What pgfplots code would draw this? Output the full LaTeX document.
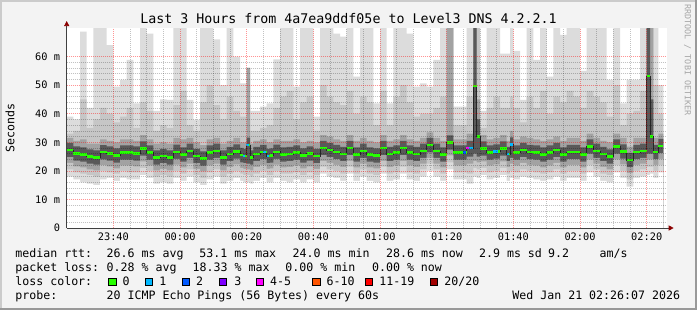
\documentclass[border=0pt]{standalone}
\usepackage{fontspec}
\setmainfont{DejaVu Sans Mono}
\usepackage{pgfplots}
\pgfplotsset{compat=1.18}
\usepackage{pgfplotstable}
\usetikzlibrary{arrows.meta}

\definecolor{bgc}{HTML}{F3F3F3}
\definecolor{shadea}{HTML}{CBCBCB}
\definecolor{shadeb}{HTML}{999999}
\definecolor{Lone}{HTML}{DCDCDC}
\definecolor{Ltwo}{HTML}{C6C6C6}
\definecolor{Lthree}{HTML}{A2A2A2}
\definecolor{Lfour}{HTML}{595959}
\definecolor{medgreen}{HTML}{26FF00}
\definecolor{loss1}{HTML}{00B8FF}
\definecolor{loss2}{HTML}{0059FF}
\definecolor{loss3}{HTML}{7E00FF}
\definecolor{loss4}{HTML}{FF00FF}
\definecolor{loss6}{HTML}{FF5500}
\definecolor{loss11}{HTML}{FF0000}
\definecolor{loss20}{HTML}{A10000}
\definecolor{arrowc}{HTML}{8B0000}

\newcommand\lgf{\fontsize{11.6}{13}\selectfont}

\pgfplotstableread{
m top t2 t3 t4 b4 b3 b2 b1 med
-34 39 33 31.5 29.8 24.8 22.8 20.5 18 27.3
-32 38 34 30.5 28.6 23.6 21.6 19.5 17 26.1
-30 68.7 45 31 28.2 23.2 21.2 19 16 25.7
-28 42 35 29.5 27.5 22.5 20.5 18.5 15.5 25.0
-26 70 38 29.5 27.2 22.2 20.2 18 15 24.7
-24 70 42 31 29 24 22 20 17 26.5
-22 64 40 30.5 28.6 23.6 21.6 19.5 17.5 26.1
-20 49.5 37 30 27.9 22.9 20.9 19 16.5 25.4
-18 51.8 39 31 28.9 23.9 21.9 20 17.5 26.4
-16 58.8 42 31 28.9 23.9 21.9 19.5 17 26.4
-14 43.6 35 30.5 28.6 23.6 21.6 19.5 17 26.1
-12 70 44 32.5 30.3 25.3 23.3 21 18.5 27.8
-10 68 41 31 28.9 23.9 21.9 20 17.5 26.4
-8 41 34 29.5 27.2 22.2 20.2 18 15.5 24.7
-6 45 36 30 27.7 22.7 20.7 18.5 16 25.2
-4 44.8 35 29.5 27.2 22.2 20.2 18 15.5 24.7
-2 70 43 31.5 29.2 24.2 22.2 20 17.5 26.7
0 70 48 31 28.2 23.2 21.2 19 16.5 25.7
2 44.8 36 31.5 29.5 24.5 22.5 20.5 18 27.0
4 37.8 34 30 27.7 22.7 20.7 18.5 16 25.2
6 70 44 29 26.8 21.8 19.8 17.5 15 24.3
8 70 50 31 28.9 23.9 21.9 19.5 17 26.4
10 66 43 31.5 29.5 24.5 22.5 20.5 18 27.0
12 50 38 29.5 27.2 22.2 20.2 18 15.5 24.7
14 70 46 30.5 28.4 23.4 21.4 19 16.5 25.9
16 60 41 31.5 29.3 24.3 22.3 20 17.5 26.8
18 50.6 39 30 28 23 21 19 16.5 25.5
19 50.6 39 30 27.7 22.7 20.7 18.5 16 25.2
20 56 56 56 31.6 22.5 20.5 18.5 16 29.1
21 41 34 29.5 27.2 22.2 20.2 18 15.5 24.7
22 41 34 30.5 28.4 23.4 21.4 19 16.5 25.9
24 42.5 35 31 29.1 24.1 22.1 20 17.5 26.6
25 42.5 35 31 29.1 24.1 22.1 20 17.5 26.6
26 43.6 36 30 27.7 22.7 20.7 18.5 16 25.2
27 43.6 36 30 27.9 22.9 20.9 18.5 16 25.4
28 59 42 31 29.2 24.2 22.2 20 17.5 26.7
30 70 46 30.5 28.2 23.2 21.2 19 16.5 25.7
32 70 48 30.5 28.4 23.4 21.4 19 16 25.9
34 49.5 38 31 28.9 23.9 21.9 19.5 17 26.4
36 70 44 30 27.9 22.9 20.9 18.5 16 25.4
38 70 46 30.5 28.6 23.6 21.6 19.5 17 26.1
40 39 34 30 27.7 22.7 20.7 18.5 16 25.2
42 70 50 32.5 30.5 25.5 23.5 21.5 19 28.0
44 70 46 32 29.8 24.8 22.8 20.5 18 27.3
46 68 44 31 29.1 24.1 22.1 20 17.5 26.6
48 67 43 30.5 28.4 23.4 21.4 19 16.5 25.9
50 70 48 32.5 30.5 25.5 23.5 21.5 19 28.0
52 53 40 30.5 28.2 23.2 21.2 19 16.5 25.7
54 70 46 31.5 29.5 24.5 22.5 20.5 18 27.0
56 70 44 30.5 28.2 23.2 21.2 19 16.5 25.7
58 43.6 36 30 27.9 22.9 20.9 18.5 16 25.4
60 70 48 32.5 30.5 25.5 23.5 21.5 19 28.0
62 43.6 36 30.5 28.4 23.4 21.4 19 16.5 25.9
64 70 46 31 28.9 23.9 21.9 19.5 17 26.4
66 70 50 32.5 30.5 25.5 23.5 21.5 19 28.0
68 68 44 31 28.9 23.9 21.9 19.5 17 26.4
70 49.5 39 30.5 28.4 23.4 21.4 19 16.5 25.9
72 50.6 40 31.5 29.5 24.5 22.5 20.5 18 27.0
74 49.5 40 33.5 31.5 26.5 24.5 22.5 20 29.0
76 58.8 42 31.5 29.5 24.5 22.5 20.5 18 27.0
78 70 46 30.5 28.2 23.2 21.2 19 16.5 25.7
80 70 70 70 32.4 27.4 25.4 23 20.5 29.9
82 42.5 36 31 28.9 23.9 21.9 19.5 17 26.4
84 42.5 36 31 28.9 23.9 21.9 19.5 17 26.4
85 42.5 36 31 28.9 23.9 21.9 19.5 17 26.4
86 70 46 33 30.5 25 22.5 19 15.5 28.0
87 70 46 33 30.5 25 22.5 19 15.5 28.0
88 70 70 70 70 26 23.5 21 18 49.7
89 70 70 45 38 25 23 20.5 17.5 32.0
90 41 35 32.5 30.3 25.3 23.3 21 18.5 27.8
92 70 42 31 28.9 23.9 21.9 19.5 17 26.4
94 70 46 31.5 29.3 24.3 22.3 20 17.5 26.8
96 61 42 32.5 30.3 25.3 23.3 21 18.5 27.8
98 61 42 30.5 28.4 23.4 21.4 19 16.5 25.9
99 70 46 34 31.7 24.5 22.5 20 17.5 29.2
100 62 42 31 28.9 23.9 21.9 19.5 17 26.4
102 44.8 37 32 29.8 24.8 22.8 20.5 18 27.3
104 70 46 31.5 29.1 24.1 22.1 20 17.5 26.6
106 58.8 42 31 28.9 23.9 21.9 19.5 17 26.4
108 70 48 30.5 28.2 23.2 21.2 19 16.5 25.7
110 53 40 31 28.9 23.9 21.9 19.5 17 26.4
112 70 46 32 29.8 24.8 22.8 20.5 18 27.3
114 67.6 44 30.5 28.2 23.2 21.2 19 16.5 25.7
116 70 48 31.5 29.1 24.1 22.1 20 17.5 26.6
118 70 46 31.5 29.1 24.1 22.1 20 17.5 26.6
120 55 42 30.5 28.2 23.2 21.2 19 16.5 25.7
122 70 48 33 31 26 24 22 19.5 28.5
124 70 46 31.5 29.5 24.5 22.5 20.5 18 27.0
126 70 44 30.5 28.4 23.4 21.4 19 16.5 25.9
128 51.8 39 30 27.5 22.5 20.5 18.5 16 25.0
130 70 50 33 31 26 24 22 19.5 28.5
132 43.6 36 31.5 29.3 24.3 22.3 20 17.5 26.8
134 51.8 40 28.5 26.3 21.3 19.3 17 14.5 23.8
136 51.8 41 31.5 29.1 24.1 22.1 20 17.5 26.6
138 70 48 31.5 29.5 24.5 22.5 20.5 18 27.0
140 70 70 70 70 26 24 21.5 18.5 53.2
141 70 70 70 45 26 24 21.5 19 32.0
142 70 50 31.5 29.1 24.1 22.1 20 17.5 26.6
143.5 50 40 33 31.2 26.2 24.2 22 19.5 28.7
145 50 40 33 31.2 26.2 24.2 22 19.5 28.7
}\smoke

\begin{document}
\begin{tikzpicture}
\useasboundingbox (0pt,0pt) rectangle (697pt,310pt);
\fill[bgc] (0pt,0pt) rectangle (697pt,310pt);
\fill[shadea] (0pt,0pt) rectangle (2pt,310pt);
\fill[shadea] (0pt,308pt) rectangle (697pt,310pt);
\fill[shadeb] (695pt,0pt) rectangle (697pt,310pt);
\fill[shadeb] (0pt,0pt) rectangle (697pt,2pt);
\begin{axis}[
  at={(66.7pt,82pt)}, anchor=south west,
  scale only axis, width=600pt, height=200pt,
  xmin=-34, xmax=146, ymin=0, ymax=70,
  axis background/.style={fill=white},
  axis on top,
  axis lines=left,
  axis line style={color=black!75, line width=0.7pt},
  x axis line style={-{Triangle[length=5pt,width=5pt,color=arrowc]}, shorten >=-7pt},
  y axis line style={-{Triangle[length=5pt,width=5pt,color=arrowc]}, shorten >=-7pt},
  xtick={-20,0,20,40,60,80,100,120,140},
  xticklabels={23:40,00:00,00:20,00:40,01:00,01:20,01:40,02:00,02:20},
  ytick={0,10,20,30,40,50,60},
  yticklabels={0,10 m,20 m,30 m,40 m,50 m,60 m},
  minor x tick num=3, minor y tick num=4,
  grid=both,
  major grid style={red, draw opacity=0.42, dash pattern=on 1pt off 1pt, line width=0.6pt},
  minor grid style={black, draw opacity=0.24, dash pattern=on 1pt off 1pt, line width=0.6pt},
  major tick length=0pt, minor tick length=0pt,
  tick label style={font=\fontsize{10.3}{12}\selectfont, /pgf/number format/assume math mode=true},
  xticklabel style={anchor=base, inner sep=0pt, yshift=-13pt},
  yticklabel style={anchor=east, inner sep=0pt, xshift=-6.5pt},
  clip=true,
]
\addplot[const plot, fill=Lone, draw=none] table[x=m,y=top]{\smoke} \closedcycle;
\addplot[const plot, fill=Ltwo, draw=none] table[x=m,y=t2]{\smoke} \closedcycle;
\addplot[const plot, fill=Lthree, draw=none] table[x=m,y=t3]{\smoke} \closedcycle;
\addplot[const plot, fill=Lfour, draw=none] table[x=m,y=t4]{\smoke} \closedcycle;
\addplot[const plot, fill=Lthree, draw=none] table[x=m,y=b4]{\smoke} \closedcycle;
\addplot[const plot, fill=Ltwo, draw=none] table[x=m,y=b3]{\smoke} \closedcycle;
\addplot[const plot, fill=Lone, draw=none] table[x=m,y=b2]{\smoke} \closedcycle;
\addplot[const plot, fill=white, draw=none] table[x=m,y=b1]{\smoke} \closedcycle;
\addplot[const plot, black!85, line width=0.7pt] table[x=m,y=med]{\smoke};
\addplot[jump mark left, medgreen, line width=2.4pt] table[x=m,y=med]{\smoke};
\addplot[loss1, line width=2.4pt] coordinates {(18.8,25.2) (19.6,25.2)};
\addplot[loss1, line width=2.4pt] coordinates {(19.8,29.1) (20.8,29.1)};
\addplot[loss1, line width=2.4pt] coordinates {(25,26.6) (25.8,26.6)};
\addplot[loss1, line width=2.4pt] coordinates {(26,25.2) (26.8,25.2)};
\addplot[loss2, line width=2.4pt] coordinates {(85,26.4) (85.8,26.4)};
\addplot[loss4, line width=2.4pt] coordinates {(85.8,28) (86.8,28)};
\addplot[loss1, line width=2.4pt] coordinates {(86.8,28) (88,28)};
\addplot[loss1, line width=2.4pt] coordinates {(94,26.8) (95.5,26.8)};
\addplot[loss1, line width=2.4pt] coordinates {(98,25.9) (98.6,25.9)};
\addplot[loss1, line width=2.4pt] coordinates {(99,29.2) (100,29.2)};
\end{axis}

\node[anchor=base, inner sep=0pt, font=\fontsize{13.3}{15}\selectfont] at (348.5pt,286pt) {Last 3 Hours from 4a7ea9ddf05e to Level3 DNS 4.2.2.1};
\node[rotate=90, inner sep=0pt, font=\lgf] at (10pt,182pt) {Seconds};
\node[rotate=-90, inner sep=0pt, font=\fontsize{8.4}{10}\selectfont, text=black!35] at (687.5pt,250pt) {RRDTOOL / TOBI OETIKER};

\begin{scope}[every node/.style={anchor=base west, inner sep=0pt, font=\lgf}]
\node at (15.2pt,52pt) {median rtt:};
\node at (106.5pt,52pt) {26.6 ms avg};
\node at (199.2pt,52pt) {53.1 ms max};
\node at (292.5pt,52pt) {24.0 ms min};
\node at (385.9pt,52pt) {28.6 ms now};
\node at (478.9pt,52pt) {2.9 ms sd};
\node at (547.9pt,52pt) {9.2};
\node at (599.5pt,52pt) {am/s};

\node at (15.2pt,38pt) {packet loss:};
\node at (106.5pt,38pt) {0.28 \% avg};
\node at (192.5pt,38pt) {18.33 \% max};
\node at (285.2pt,38pt) {0.00 \% min};
\node at (371.9pt,38pt) {0.00 \% now};

\node at (15.2pt,24pt) {loss color:};
\node at (122.5pt,24pt) {0};
\node at (159.2pt,24pt) {1};
\node at (195.9pt,24pt) {2};
\node at (234.2pt,24pt) {3};
\node at (269.9pt,24pt) {4-5};
\node at (326.5pt,24pt) {6-10};
\node at (379.2pt,24pt) {11-19};
\node at (444.2pt,24pt) {20/20};

\node at (15.2pt,10pt) {probe:};
\node at (106.5pt,10pt) {20 ICMP Echo Pings (56 Bytes) every 60s};
\node at (512.2pt,10pt) {Wed Jan 21 02:26:07 2026};
\end{scope}

\begin{scope}[line width=0.8pt]
\filldraw[fill=medgreen, draw=black] (108.7pt,24.4pt) rectangle ++(7.3pt,7.3pt);
\filldraw[fill=loss1, draw=black] (145.3pt,24.4pt) rectangle ++(7.3pt,7.3pt);
\filldraw[fill=loss2, draw=black] (182pt,24.4pt) rectangle ++(7.3pt,7.3pt);
\filldraw[fill=loss3, draw=black] (219pt,24.4pt) rectangle ++(7.3pt,7.3pt);
\filldraw[fill=loss4, draw=black] (256pt,24.4pt) rectangle ++(7.3pt,7.3pt);
\filldraw[fill=loss6, draw=black] (312.7pt,24.4pt) rectangle ++(7.3pt,7.3pt);
\filldraw[fill=loss11, draw=black] (365.3pt,24.4pt) rectangle ++(7.3pt,7.3pt);
\filldraw[fill=loss20, draw=black] (430pt,24.4pt) rectangle ++(7.3pt,7.3pt);
\end{scope}
\end{tikzpicture}
\end{document}
